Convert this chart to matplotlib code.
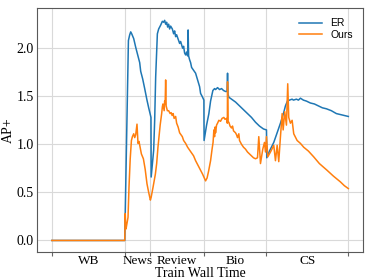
import matplotlib
matplotlib.use("Agg")
import matplotlib.pyplot as plt
from matplotlib.ticker import FixedLocator, FixedFormatter

# domain boundaries (train wall time, arbitrary units) and domain names
bounds = [0, 73, 98, 152, 215, 297]
domains = ['WB', 'News', 'Review', 'Bio', 'CS']

er_t = [0, 73, 73.5, 76.7, 78, 79, 80, 82, 84, 86, 88, 89, 91, 93, 95.3, 97, 99.3,
        99.5, 102, 103, 104, 105.7, 107, 109, 110.7, 112, 113, 114, 115, 116, 117,
        118, 119, 120.7, 122, 123, 124, 125, 127, 128, 129, 131, 132, 133, 134, 135,
        136, 136.5, 137, 138, 139, 140, 142, 144, 146, 148, 149, 151, 152.3, 152.5,
        155, 157.3, 159, 161.3, 163, 164, 166, 168, 170, 172, 174, 175.5, 176, 176.5,
        177.3, 180, 184, 188, 192, 196, 200, 204, 208, 212, 215, 215.3, 218, 222.3,
        225, 229, 232, 234, 236, 238, 240.7, 242, 245, 247, 249, 252, 255, 259, 263,
        267, 271, 275, 280, 285, 289, 293, 297]
er_v = [0, 0, 0.28, 2.08, 2.14, 2.17, 2.15, 2.10, 2.01, 1.93, 1.85, 1.76, 1.68, 1.58,
        1.46, 1.38, 1.28, 0.66, 0.94, 1.25, 1.70, 2.15, 2.20, 2.24, 2.28, 2.27, 2.29,
        2.25, 2.27, 2.22, 2.25, 2.20, 2.23, 2.20, 2.15, 2.18, 2.12, 2.14, 2.08, 2.05,
        2.07, 2.00, 2.02, 1.95, 1.93, 1.96, 1.92, 2.19, 1.92, 1.88, 1.85, 1.80, 1.77,
        1.74, 1.67, 1.60, 1.53, 1.49, 1.46, 1.04, 1.20, 1.32, 1.45, 1.56, 1.58, 1.57,
        1.59, 1.57, 1.58, 1.56, 1.55, 1.55, 1.74, 1.52, 1.49, 1.47, 1.44, 1.40, 1.36,
        1.32, 1.28, 1.23, 1.19, 1.16, 1.15, 0.86, 0.93, 1.02, 1.10, 1.22, 1.32, 1.40,
        1.45, 1.46, 1.47, 1.46, 1.47, 1.46, 1.48, 1.46, 1.45, 1.43, 1.42, 1.40, 1.38,
        1.37, 1.35, 1.32, 1.31, 1.30, 1.29]

ours_t = [0, 73, 73.5, 74, 74.3, 76.3, 77.3, 78.5, 79.7, 80.7,
          82, 83, 84, 85.3, 86.3, 87.3, 89.7, 91.7, 93.5, 95.3,
          97, 98.7, 99.5, 101.3, 103.7, 105, 106.3, 107.5, 108.5, 110,
          110.7, 111.3, 112.5, 113, 113.5, 114, 114.5, 115.7, 117, 118.5,
          119.5, 120.5, 121.5, 122.5, 124, 125, 126.5, 128, 130.7, 132,
          134, 136, 138, 140.7, 142, 144, 146, 149, 151, 154,
          155.5, 157, 158.5, 159, 160.5, 161.5, 162.3, 163, 163.5, 164,
          165, 166, 167.3, 169, 170.5, 172.3, 173.5, 175, 175.8, 176,
          176.5, 177.3, 178.5, 180, 181, 182, 184, 185, 186, 187.3,
          188, 190, 192, 194, 196,
          199, 202, 204, 206, 207.3, 209, 211.3, 213, 214, 215,
          216.3, 219, 222.3, 224, 225.7, 227.3, 229, 230.7, 231.7, 233.3,
          235, 236.3, 237.3, 239, 240.7, 242.3, 245.7, 249, 252.3, 257,
          262.3, 268, 275.7, 282, 289, 293, 297]
ours_v = [0, 0, 0.28, 0.15, 0.12, 0.24, 0.56, 0.85, 1.04, 1.08,
          1.11, 1.07, 1.10, 1.21, 1.01, 1.03, 0.90, 0.85, 0.74, 0.59,
          0.50, 0.42, 0.45, 0.55, 0.69, 0.80, 0.97, 1.10, 1.20, 1.32,
          1.39, 1.42, 1.35, 1.45, 1.42, 1.67, 1.40, 1.35, 1.35, 1.32,
          1.33, 1.30, 1.32, 1.27, 1.29, 1.22, 1.18, 1.12, 1.08, 1.04,
          1.01, 0.97, 0.94, 0.90, 0.88, 0.83, 0.79, 0.73, 0.69, 0.62,
          0.65, 0.72, 0.80, 0.83, 0.95, 1.02, 1.15, 1.08, 1.18, 1.12,
          1.20, 1.22, 1.25, 1.24, 1.27, 1.28, 1.26, 1.27, 1.22, 1.65,
          1.23, 1.23, 1.19, 1.17, 1.19, 1.14, 1.12, 1.10, 1.07, 1.11,
          1.04, 1.00, 0.97, 0.95, 0.92,
          0.89, 0.86, 0.85, 0.86, 1.08, 0.80, 0.95, 1.02, 0.92, 1.08,
          0.87, 0.92, 0.99, 0.83, 0.99, 0.82, 1.08, 1.32, 1.15, 1.34,
          1.20, 1.63, 1.28, 1.22, 1.25, 1.11, 1.04, 1.01, 0.97, 0.93,
          0.87, 0.80, 0.73, 0.67, 0.61, 0.57, 0.54]

plt.rcParams['font.family'] = ['Liberation Serif', 'DejaVu Serif']

fig = plt.figure(figsize=(3.74, 2.8), dpi=100)
ax = fig.add_axes([0.099, 0.1, 0.872, 0.872])

ax.plot(er_t, er_v, color='#1f77b4', lw=1.1, label='ER')
ax.plot(ours_t, ours_v, color='#ff7f0e', lw=1.1, label='Ours')

ax.set_ylim(-0.12, 2.42)
ax.set_yticks([0.0, 0.5, 1.0, 1.5, 2.0])
ax.set_yticklabels(['0.0', '0.5', '1.0', '1.5', '2.0'], fontsize=10)

mids = [(a + b) / 2 for a, b in zip(bounds[:-1], bounds[1:])]
ax.xaxis.set_major_locator(FixedLocator(bounds))
ax.xaxis.set_major_formatter(FixedFormatter([''] * len(bounds)))
ax.xaxis.set_minor_locator(FixedLocator(mids))
ax.xaxis.set_minor_formatter(FixedFormatter(domains))
ax.tick_params(axis='x', which='minor', length=0, labelsize=9.5, pad=2)
ax.tick_params(axis='x', which='major', length=3, color='0.4')
ax.tick_params(axis='y', length=0, pad=2.5)

ax.grid(True, which='major', color='#d9d9d9', lw=0.8)
ax.set_axisbelow(True)
for s in ax.spines.values():
    s.set_color('0.35')
    s.set_linewidth(0.8)

ax.set_xlabel('Train Wall Time', fontsize=10, labelpad=0.5)
ax.set_ylabel('AP+', fontsize=10, labelpad=1)

ax.legend(loc='upper right', frameon=False, prop={'family': 'Liberation Sans', 'size': 7.5},
          handlelength=2.2, labelspacing=0.15, borderaxespad=0.6)

fig.savefig('out.png', dpi=100)
